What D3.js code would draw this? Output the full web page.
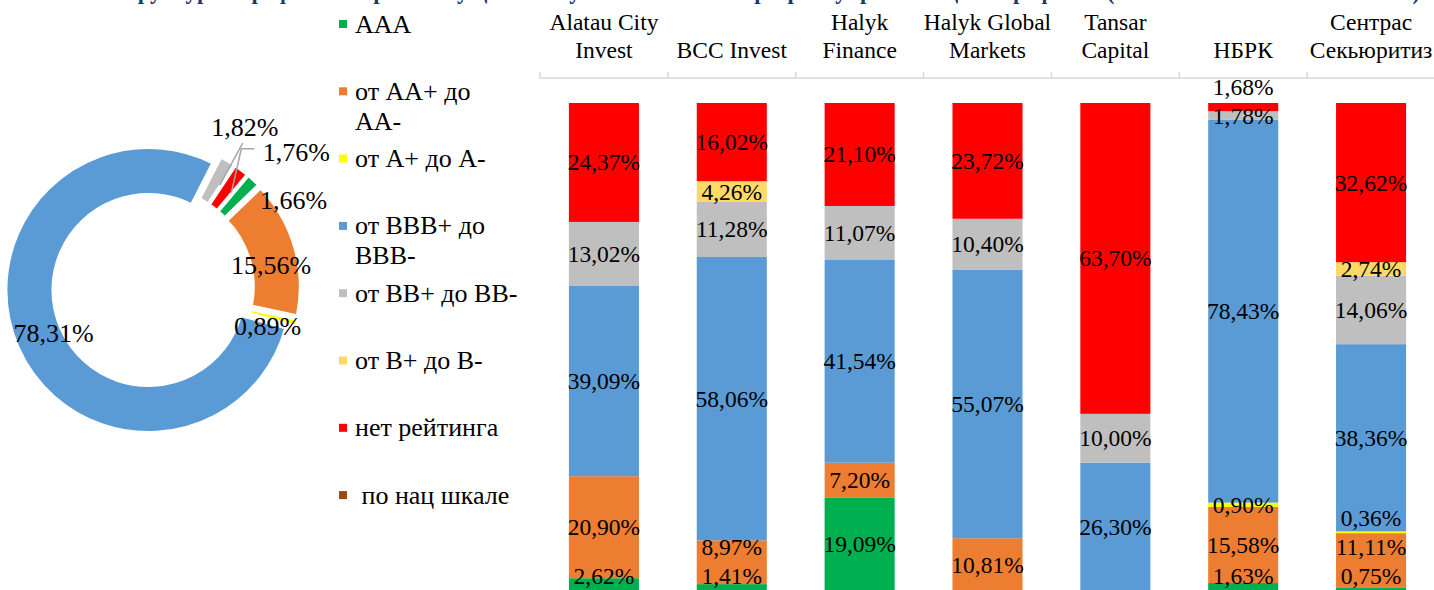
<!DOCTYPE html>
<html>
<head>
<meta charset="utf-8">
<script src="https://cdn.jsdelivr.net/npm/d3@7"></script>
<style>
  body { margin: 0; background: #fff; }
  svg, svg text { font-family: "Liberation Serif", "DejaVu Serif", "Times New Roman", serif; }
</style>
</head>
<body>
<svg width="1434" height="590" font-family="Liberation Serif, DejaVu Serif, serif"></svg>
<script>
// ---- data ----
const ratings = ["AAA", "от AA+ до AA-", "от A+ до A-", "от BBB+ до BBB-", "от BB+ до BB-", "от B+ до B-", "нет рейтинга", "по нац шкале"];
const legendLines = [["AAA"], ["от AA+ до", "AA-"], ["от A+ до A-"], ["от BBB+ до", "BBB-"], ["от BB+ до BB-"], ["от B+ до B-"], ["нет рейтинга"], [" по нац шкале"]];
const colors = ["#00b050", "#ed7d31", "#ffff00", "#5b9bd5", "#bfbfbf", "#ffd966", "#ff0000", "#9e480e"];

const companies = ["Alatau City Invest", "BCC Invest", "Halyk Finance", "Halyk Global Markets", "Tansar Capital", "НБРК", "Сентрас Секьюритиз"];
const companyLines = [["Alatau City", "Invest"], ["BCC Invest"], ["Halyk", "Finance"], ["Halyk Global", "Markets"], ["Tansar", "Capital"], ["НБРК"], ["Сентрас", "Секьюритиз"]];

const aaa = [2.62, 1.41, 19.09, 0, 0, 1.63, 0.75];
const aa  = [20.90, 8.97, 7.20, 10.81, 0, 15.58, 11.11];
const a   = [0, 0, 0, 0, 0, 0.90, 0.36];
const bbb = [39.09, 58.06, 41.54, 55.07, 26.30, 78.43, 38.36];
const bb  = [13.02, 11.28, 11.07, 10.40, 10.00, 1.78, 14.06];
const b   = [0, 4.26, 0, 0, 0, 0, 2.74];
const nr  = [24.37, 16.02, 21.10, 23.72, 63.70, 1.68, 32.62];
const nat = [0, 0, 0, 0, 0, 0, 0];

// whole portfolio (doughnut)
const total = [1.66, 15.56, 0.89, 78.31, 1.82, 0, 1.76, 0];

const title = "Структура портфелей по рейтингу ценных бумаг эмитентов в разрезе управляющих портфелем (по состоянию на 01.01.2024 г.)";

// ---- setup ----
const svg = d3.select("svg");
const fmt = v => d3.format(".2f")(v).replace(".", ",") + "%";

// title, mostly cut off at the top
svg.append("text")
  .attr("x", 110).attr("y", -1.5)
  .attr("textLength", 1310).attr("lengthAdjust", "spacingAndGlyphs")
  .attr("font-size", 26).attr("font-weight", "bold")
  .attr("fill", "#1f3864")
  .text(title);

// ---- doughnut ----
const cx = 153, cy = 288, explode = 5;
const start = 40 * Math.PI / 180;
const pie = d3.pie().sort(null).value(d => d.v)
  .startAngle(start).endAngle(start + 2 * Math.PI);
const arc = d3.arc().innerRadius(95).outerRadius(143);

const slices = pie(total.map((v, i) => ({ v, i }))).filter(s => s.data.v > 0);
const shift = s => {
  const m = (s.startAngle + s.endAngle) / 2;
  return [Math.sin(m) * explode, -Math.cos(m) * explode];
};

const donut = svg.append("g").attr("transform", `translate(${cx},${cy})`);
donut.selectAll("path")
  .data(slices)
  .enter()
  .append("path")
  .attr("d", arc)
  .attr("transform", d => `translate(${shift(d)})`)
  .attr("fill", d => colors[d.data.i])
  .attr("stroke", "#fff")
  .attr("stroke-width", 4);

// label nudges (Excel moved some labels by hand)
const labelNudge = { 0: [56, 3], 1: [-1, 11], 2: [-6, 9], 3: [14, -5], 4: [29, -54], 6: [69, -37] };
const labelPos = d => {
  const c = arc.centroid(d), s = shift(d), n = labelNudge[d.data.i] || [0, 0];
  return [c[0] + s[0] + n[0], c[1] + s[1] + n[1]];
};
const anchorPos = d => {
  const c = arc.centroid(d), s = shift(d);
  return [c[0] + s[0] + 4, c[1] + s[1] + 4];
};

// leader lines for the two moved labels
const line = d3.line();
slices.forEach(d => {
  const p = labelPos(d), q = anchorPos(d);
  let pts = null;
  if (d.data.i === 4) pts = [[p[0] - 2, p[1] + 16], q];
  if (d.data.i === 6) pts = [[p[0] - 42, p[1] - 3], [p[0] - 55, p[1] - 3], q];
  if (pts) {
    donut.append("path").attr("d", line(pts))
      .attr("fill", "none").attr("stroke", "#a6a6a6").attr("stroke-width", 1.5);
  }
});

donut.selectAll("text.lbl")
  .data(slices)
  .enter()
  .append("text")
  .attr("class", "lbl")
  .attr("x", d => labelPos(d)[0])
  .attr("y", d => labelPos(d)[1])
  .attr("dy", "0.34em")
  .attr("text-anchor", "middle")
  .attr("font-size", 26)
  .text(d => fmt(d.data.v));

// ---- legend ----
const legend = svg.append("g");
legendLines.forEach((lines, i) => {
  const y = 24 + i * 67.3;
  legend.append("rect")
    .attr("x", 339).attr("y", y - 4).attr("width", 8).attr("height", 8)
    .attr("fill", colors[i]);
  lines.forEach((t, j) => {
    legend.append("text")
      .attr("x", 355).attr("y", y + 8.5 + j * 30)
      .attr("font-size", 26)
      .style("white-space", "pre")
      .text(t);
  });
});

// ---- stacked bars ----
const x = d3.scaleBand().domain(companies).range([540, 1435]).padding(0);
const y = d3.scaleLinear().domain([0, 100]).range([591, 103]);
const barW = x.step() * 0.548;

const table = companies.map((c, k) => {
  const row = { company: c };
  [aaa, aa, a, bbb, bb, b, nr, nat].forEach((arr, i) => { row[ratings[i]] = arr[k]; });
  return row;
});
const stack = d3.stack().keys(ratings)(table);

const bars = svg.append("g");
stack.forEach((layer, i) => {
  bars.selectAll(null)
    .data(layer.filter(d => d[1] - d[0] > 0))
    .enter()
    .append("rect")
    .attr("x", d => x(d.data.company) + (x.step() - barW) / 2)
    .attr("width", barW)
    .attr("y", d => y(d[1]))
    .attr("height", d => y(d[0]) - y(d[1]))
    .attr("fill", colors[i]);
});

// data labels: centered, kept inside plot and pushed apart like Excel
const labels = svg.append("g").attr("font-size", 23.5).attr("text-anchor", "middle");
companies.forEach((c, k) => {
  let prev = Infinity;
  stack.forEach(layer => {
    const d = layer[k];
    const v = d[1] - d[0];
    if (v <= 0) return;
    let ly = (y(d[0]) + y(d[1])) / 2;
    ly = Math.min(ly, 576, prev - 29);
    prev = ly;
    labels.append("text")
      .attr("x", x(c) + x.step() / 2)
      .attr("y", ly)
      .attr("dy", "0.34em")
      .text(fmt(v));
  });
});

// ---- category axis on top ----
const axis = svg.append("g");
axis.append("line")
  .attr("x1", x.range()[0]).attr("x2", x.range()[1])
  .attr("y1", 78).attr("y2", 78)
  .attr("stroke", "#d9d9d9").attr("stroke-width", 1.5);
const bounds = companies.map(c => x(c)).concat([x.range()[1]]);
axis.selectAll("line.tick")
  .data(bounds)
  .enter()
  .append("line")
  .attr("class", "tick")
  .attr("x1", d => d).attr("x2", d => d)
  .attr("y1", 72).attr("y2", 78)
  .attr("stroke", "#d9d9d9").attr("stroke-width", 1.5);

companies.forEach((c, k) => {
  const lines = companyLines[k];
  lines.forEach((t, j) => {
    axis.append("text")
      .attr("x", x(c) + x.step() / 2)
      .attr("y", 58 - (lines.length - 1 - j) * 28)
      .attr("text-anchor", "middle")
      .attr("font-size", 23.5)
      .text(t);
  });
});
</script>
</body>
</html>
